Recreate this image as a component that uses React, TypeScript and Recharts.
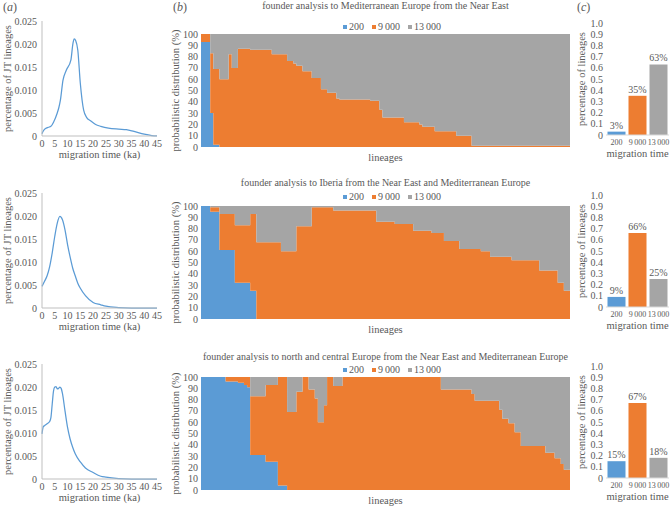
import { AreaChart, Area, LineChart, Line, BarChart, Bar, Cell, LabelList, XAxis, YAxis } from 'recharts'

// (a) density of migration times (ka) for JT lineages, one curve per destination
const medTime = [0, 0.5, 1.3, 2.5, 3.5, 4.6, 5.9, 6.6, 7.2, 8.2, 9.5, 11.3, 12.1, 12.6, 13.2, 14, 15, 16.3, 17.5, 19, 21, 23, 26, 30, 33, 36, 40, 43, 45]
const medDensity = [0.0005, 0.0011, 0.0016, 0.0019, 0.0021, 0.0031, 0.0049, 0.0062, 0.0078, 0.0121, 0.0143, 0.0165, 0.0201, 0.0211, 0.0207, 0.0187, 0.0114, 0.0056, 0.004, 0.0033, 0.0025, 0.0021, 0.0017, 0.0015, 0.0014, 0.001, 0.0004, 0.0001, 0]

const iberiaTime = [0, 1, 2, 3, 4, 5, 6, 7, 8, 9, 10, 11, 12, 13, 14, 15, 17, 20, 23, 25, 30, 35, 40, 45]
const iberiaDensity = [0.0047, 0.0058, 0.007, 0.009, 0.012, 0.0156, 0.0185, 0.0199, 0.0192, 0.017, 0.0138, 0.0111, 0.0087, 0.007, 0.0054, 0.0043, 0.0027, 0.0012, 0.0007, 0.0004, 0.0001, 0, 0, 0]

const northTime = [0, 0.5, 1, 2, 3, 3.5, 4, 4.5, 5, 5.5, 6, 6.5, 7, 7.5, 8, 9, 10, 11, 12, 13, 15, 17, 20, 23, 25, 30, 35, 40, 45]
const northDensity = [0.0098, 0.0114, 0.0116, 0.012, 0.0125, 0.0134, 0.0163, 0.0191, 0.02, 0.0201, 0.0196, 0.0197, 0.02, 0.0197, 0.0186, 0.0148, 0.0112, 0.0087, 0.0069, 0.0055, 0.0037, 0.0024, 0.0014, 0.0006, 0.0004, 0.0001, 0, 0, 0]

const timeTicks = [0, 5, 10, 15, 20, 25, 30, 35, 40, 45]
const densityTicks = [0, 0.005, 0.01, 0.015, 0.02, 0.025]

// (b) per-lineage probability (%) of each founder time; a value holds from its lineage until the next break
const medBreaks = [0, 3, 4, 6, 9, 10, 12, 16, 23, 28, 30, 31, 33, 36, 39, 41, 44, 45, 55, 58, 59, 66, 71, 72, 76, 83, 88, 120]
const med200 = [93, 30, 2, 0, 0, 0, 0, 0, 0, 0, 0, 0, 0, 0, 0, 0, 0, 0, 0, 0, 0, 0, 0, 0, 0, 0, 0, 0]
const med9000 = [7, 53, 67, 60, 82, 70, 87, 86, 82, 76, 74, 72, 67, 61, 51, 48, 43, 42, 41, 33, 26, 22, 20, 18, 14, 10, 1, 1]
const med13000 = [0, 17, 31, 40, 18, 30, 13, 14, 18, 24, 26, 28, 33, 39, 49, 52, 57, 58, 59, 67, 74, 78, 80, 82, 86, 90, 99, 99]

const iberiaBreaks = [0, 3, 6, 11, 16, 18, 26, 31, 36, 43, 57, 63, 69, 75, 79, 84, 91, 94, 101, 110, 116, 118, 120]
const iberia200 = [100, 95, 61, 32, 25, 0, 0, 0, 0, 0, 0, 0, 0, 0, 0, 0, 0, 0, 0, 0, 0, 0, 0]
const iberia9000 = [0, 4, 32, 51, 68, 68, 60, 82, 99, 96, 86, 84, 78, 76, 69, 62, 60, 55, 52, 43, 32, 25, 25]
const iberia13000 = [0, 1, 7, 17, 7, 32, 40, 18, 1, 4, 14, 16, 22, 24, 31, 38, 40, 45, 48, 57, 68, 75, 75]

const northBreaks = [0, 8, 12, 14, 15, 16, 21, 25, 28, 31, 33, 35, 37, 38, 40, 41, 43, 46, 78, 88, 89, 97, 98, 100, 102, 104, 112, 115, 117, 118, 120]
const north200 = [100, 96, 95, 93, 91, 31, 25, 4, 0, 0, 0, 0, 0, 0, 0, 0, 0, 0, 0, 0, 0, 0, 0, 0, 0, 0, 0, 0, 0, 0, 0]
const north9000 = [0, 4, 5, 7, 9, 52, 68, 96, 69, 87, 100, 89, 81, 60, 75, 100, 92, 100, 89, 85, 79, 71, 63, 59, 51, 39, 33, 28, 23, 18, 18]
const north13000 = [0, 0, 0, 0, 0, 17, 7, 0, 31, 13, 0, 11, 19, 40, 25, 0, 8, 0, 11, 15, 21, 29, 37, 41, 49, 61, 67, 72, 77, 82, 82]

const pctTicks = [0, 10, 20, 30, 40, 50, 60, 70, 80, 90, 100]

// (c) share of lineages by migration time
const foundTimes = ['200', '9\u2009000', '13\u2009000']
const medShare = [0.03, 0.35, 0.63]
const iberiaShare = [0.09, 0.66, 0.25]
const northShare = [0.15, 0.67, 0.18]
const shareTicks = [0, 0.1, 0.2, 0.3, 0.4, 0.5, 0.6, 0.7, 0.8, 0.9, 1]

const titles = [
  'founder analysis to Mediterranean Europe from the Near East',
  'founder analysis to Iberia from the Near East and Mediterranean Europe',
  'founder analysis to north and central Europe from the Near East and Mediterranean Europe',
]

const FONT = '"Liberation Serif", "Times New Roman", serif'
const TEXT = '#595959'
const AXIS = '#bfbfbf'
const COLORS = ['#5b9bd5', '#ed7d31', '#a5a5a5']

const ROW_TOP = [0, 172, 343]
const TITLE_Y = [6, 183, 357]
const LEGEND_Y = [27, 197, 370]

const tickStyle = { fontSize: 10, fill: TEXT, fontFamily: FONT }

// axis titles drawn from the axis box recharts hands to the label
function XTitle({ viewBox, value, baseline }: any) {
  const { x, y, width } = viewBox
  return (
    <text x={x + width / 2} y={y + baseline} textAnchor="middle" fontSize={10.5} fill={TEXT} fontFamily={FONT}>
      {value}
    </text>
  )
}

function YTitle({ viewBox, value, dx }: any) {
  const { x, y, height } = viewBox
  const cx = x + dx
  const cy = y + height / 2
  return (
    <text x={cx} y={cy} transform={`rotate(-90 ${cx} ${cy})`} textAnchor="middle" dominantBaseline="central" fontSize={10.5} fill={TEXT} fontFamily={FONT}>
      {value}
    </text>
  )
}

function DensityPanel({ top, time, density }: { top: number; time: number[]; density: number[] }) {
  const data = time.map((t, i) => ({ t, p: density[i] }))
  return (
    <div style={{ position: 'absolute', left: 0, top }}>
      <LineChart width={165} height={162} data={data} margin={{ top: 21, right: 8, bottom: 2, left: 0 }}>
        <XAxis
          type="number"
          dataKey="t"
          domain={[0, 45]}
          ticks={timeTicks}
          interval={0}
          tickLine={false}
          tickSize={0}
          tickMargin={4}
          axisLine={{ stroke: AXIS }}
          tick={tickStyle}
          height={24}
          label={<XTitle value="migration time (ka)" baseline={22} />}
        />
        <YAxis
          type="number"
          domain={[0, 0.025]}
          ticks={densityTicks}
          interval={0}
          width={42}
          tickLine={false}
          tickSize={0}
          tickMargin={5}
          axisLine={{ stroke: AXIS }}
          tick={tickStyle}
          tickFormatter={(v: number) => (v === 0 ? '0' : v.toFixed(3))}
          label={<YTitle value="percentage of JT lineages" dx={7} />}
        />
        <Line dataKey="p" type="monotone" stroke={COLORS[0]} strokeWidth={1.25} dot={false} isAnimationActive={false} />
      </LineChart>
    </div>
  )
}

function LineagePanel({ row, breaks, s200, s9000, s13000 }: { row: number; breaks: number[]; s200: number[]; s9000: number[]; s13000: number[] }) {
  const data = breaks.map((lineage, i) => ({ lineage, a: s200[i], b: s9000[i], c: s13000[i] }))
  return (
    <>
      <div style={{ position: 'absolute', left: 201, width: 369, top: TITLE_Y[row] - 6, textAlign: 'center', fontSize: 10, lineHeight: '12px', color: TEXT, whiteSpace: 'nowrap' }}>
        {titles[row]}
      </div>
      <div style={{ position: 'absolute', left: 343, top: LEGEND_Y[row] - 6, display: 'flex', alignItems: 'center', fontSize: 10, lineHeight: '12px', color: TEXT, whiteSpace: 'nowrap' }}>
        {foundTimes.map((t, i) => (
          <span key={t} style={{ display: 'flex', alignItems: 'center', marginRight: 8 }}>
            <span style={{ width: 4, height: 4, background: COLORS[i], marginRight: 2 }} />
            {t}
          </span>
        ))}
      </div>
      <div style={{ position: 'absolute', left: 160, top: ROW_TOP[row] }}>
        <AreaChart width={415} height={165} data={data} margin={{ top: 34, right: 5, bottom: 2, left: 15 }}>
          <XAxis
            type="number"
            dataKey="lineage"
            domain={[0, 120]}
            tick={false}
            tickLine={false}
            axisLine={false}
            height={16}
            label={<XTitle value="lineages" baseline={13.5} />}
          />
          <YAxis
            type="number"
            domain={[0, 100]}
            ticks={pctTicks}
            interval={0}
            width={26}
            tickLine={false}
            tickSize={0}
            tickMargin={3}
            axisLine={false}
            tick={tickStyle}
            label={<YTitle value="probabilistic distribution (%)" dx={0} />}
          />
          <Area dataKey="a" stackId="p" type="stepAfter" stroke="none" fill={COLORS[0]} fillOpacity={1} isAnimationActive={false} />
          <Area dataKey="b" stackId="p" type="stepAfter" stroke="none" fill={COLORS[1]} fillOpacity={1} isAnimationActive={false} />
          <Area dataKey="c" stackId="p" type="stepAfter" stroke="none" fill={COLORS[2]} fillOpacity={1} isAnimationActive={false} />
        </AreaChart>
      </div>
    </>
  )
}

function SharePanel({ top, share }: { top: number; share: number[] }) {
  const data = foundTimes.map((time, i) => ({ time, share: share[i] }))
  return (
    <div style={{ position: 'absolute', left: 575, top }}>
      <BarChart width={96} height={160} data={data} margin={{ top: 23, right: 2, bottom: 0, left: 0 }} barCategoryGap={1.5}>
        <XAxis
          dataKey="time"
          interval={0}
          tickLine={false}
          tickSize={0}
          tickMargin={4}
          axisLine={{ stroke: '#d9d9d9' }}
          tick={{ fontSize: 8, fill: TEXT, fontFamily: FONT }}
          height={25}
          label={<XTitle value="migration time" baseline={21.5} />}
        />
        <YAxis
          type="number"
          domain={[0, 1]}
          ticks={shareTicks}
          interval={0}
          width={31}
          tickLine={false}
          tickSize={0}
          tickMargin={3}
          axisLine={false}
          tick={tickStyle}
          tickFormatter={(v: number) => (v === 0 ? '0' : v.toFixed(1))}
          label={<YTitle value="percentage of lineages" dx={6} />}
        />
        <Bar dataKey="share" isAnimationActive={false}>
          {data.map((d, i) => (
            <Cell key={d.time} fill={COLORS[i]} />
          ))}
          <LabelList
            dataKey="share"
            position="top"
            offset={3}
            formatter={(v: any) => `${Math.round(Number(v) * 100)}%`}
            style={{ fontSize: 10, fill: TEXT, fontFamily: FONT }}
          />
        </Bar>
      </BarChart>
    </div>
  )
}

const letter = (x: number, l: string) => (
  <div style={{ position: 'absolute', left: x, top: 0, fontSize: 12, lineHeight: '15px', color: TEXT }}>
    (<i>{l}</i>)
  </div>
)

export default function App() {
  return (
    <div style={{ position: 'absolute', left: 0, top: 0, width: 671, height: 507, background: '#fff', fontFamily: FONT, overflow: 'hidden' }}>
      <DensityPanel top={ROW_TOP[0]} time={medTime} density={medDensity} />
      <DensityPanel top={ROW_TOP[1]} time={iberiaTime} density={iberiaDensity} />
      <DensityPanel top={ROW_TOP[2]} time={northTime} density={northDensity} />
      <LineagePanel row={0} breaks={medBreaks} s200={med200} s9000={med9000} s13000={med13000} />
      <LineagePanel row={1} breaks={iberiaBreaks} s200={iberia200} s9000={iberia9000} s13000={iberia13000} />
      <LineagePanel row={2} breaks={northBreaks} s200={north200} s9000={north9000} s13000={north13000} />
      <SharePanel top={ROW_TOP[0]} share={medShare} />
      <SharePanel top={ROW_TOP[1]} share={iberiaShare} />
      <SharePanel top={ROW_TOP[2]} share={northShare} />
      {letter(3, 'a')}
      {letter(173, 'b')}
      {letter(577, 'c')}
    </div>
  )
}
